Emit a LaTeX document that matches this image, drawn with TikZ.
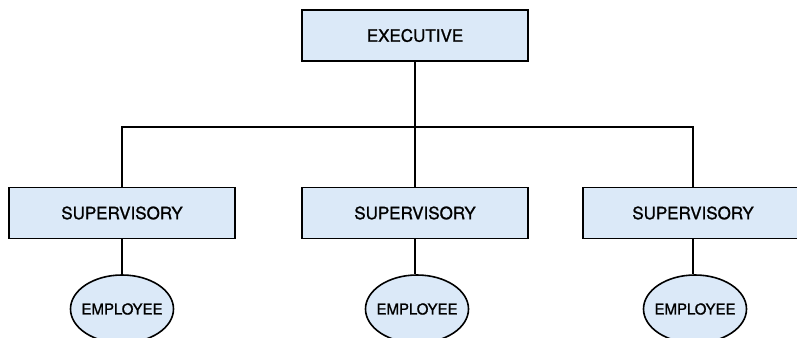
\documentclass[tikz,border=0pt]{standalone}
\usepackage{fontspec}
\setmainfont{TeX Gyre Heros}
\newfontfamily\labfont[FakeBold=1.1]{TeX Gyre Heros}
\usetikzlibrary{shapes.geometric}
\definecolor{boxfill}{RGB}{219,233,248}
\begin{document}
\begin{tikzpicture}[x=1pt,y=-1pt,
  box/.style={draw=black,line width=1.6pt,fill=boxfill,minimum width=226pt,minimum height=51pt,inner sep=0pt,font=\labfont\fontsize{17}{19}\selectfont},
  emp/.style={draw=black,line width=1.6pt,fill=boxfill,ellipse,minimum width=103pt,minimum height=68pt,inner xsep=-7pt,inner ysep=0pt,font=\labfont\fontsize{15}{17}\selectfont},
  link/.style={draw=black,line width=1.6pt}]
\useasboundingbox (0,0) rectangle (797,337);
\clip (0,0) rectangle (797,337);
\node[box] (exec) at (415,35.5) {EXECUTIVE};
\node[box] (s1) at (122,213) {SUPERVISORY};
\node[box] (s2) at (415,213) {SUPERVISORY};
\node[box,minimum width=220pt] (s3) at (693,213) {SUPERVISORY};
\node[emp] (e1) at (122,309) {EMPLOYEE};
\node[emp] (e2) at (417,309) {EMPLOYEE};
\node[emp] (e3) at (695,309) {EMPLOYEE};
\coordinate (j) at (415,127);
\draw[link] (exec.south) -- (j) -- (s2.north);
\draw[link] (s1.north) |- (j) -| (s3.north);
\draw[link] (s1.south) -- (s1.south |- e1.north);
\draw[link] (s2.south) -- (s2.south |- e2.north);
\draw[link] (s3.south) -- (s3.south |- e3.north);
\end{tikzpicture}
\end{document}
